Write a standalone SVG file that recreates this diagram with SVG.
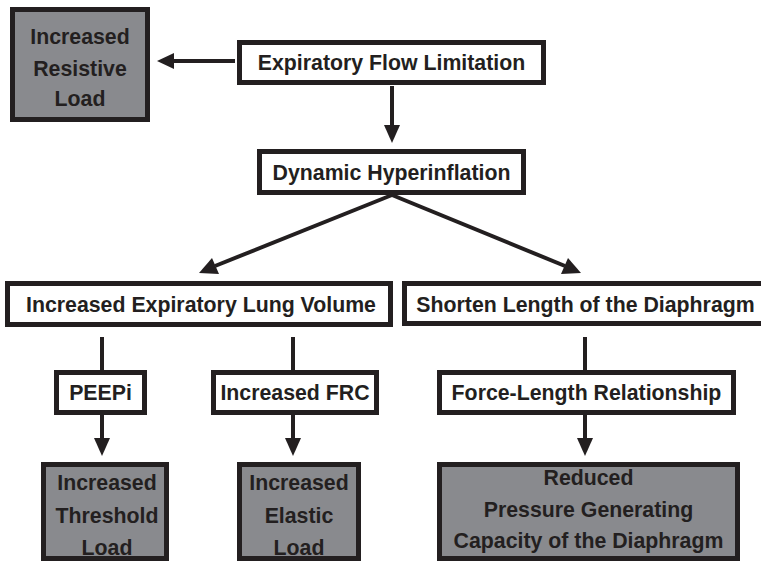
<svg xmlns="http://www.w3.org/2000/svg" width="761" height="561" viewBox="0 0 761 561">
  <style>
    .box { fill: #ffffff; stroke: #231f20; stroke-width: 5; }
    .load { fill: #898a8e; stroke: #231f20; stroke-width: 5; }
    .lbl { font-family: "Liberation Sans", Arial, sans-serif; font-weight: bold; font-size: 21.3px; fill: #231f20; text-anchor: middle; }
    .wire { stroke: #231f20; stroke-width: 4; fill: none; }
    .head { fill: #231f20; }
  </style>
  <rect width="761" height="561" fill="#ffffff"/>

  <!-- connectors -->
  <g id="connectors">
    <!-- flow limitation -> resistive load -->
    <line class="wire" x1="235" y1="61" x2="172" y2="61"/>
    <polygon class="head" points="157,61 174,53 174,69"/>
    <!-- flow limitation -> hyperinflation -->
    <line class="wire" x1="392" y1="86" x2="392" y2="127"/>
    <polygon class="head" points="392,143 384,125 400,125"/>
    <!-- hyperinflation -> two branches -->
    <line class="wire" x1="392" y1="195" x2="215" y2="266"/>
    <polygon class="head" points="199,273 212,258 219,274"/>
    <line class="wire" x1="392" y1="195" x2="565" y2="266"/>
    <polygon class="head" points="581,273 561,274 568,258"/>
    <!-- lung volume -> PEEPi / FRC -->
    <line class="wire" x1="102" y1="337" x2="102" y2="371"/>
    <line class="wire" x1="293" y1="337" x2="293" y2="371"/>
    <!-- diaphragm length -> force-length -->
    <line class="wire" x1="585" y1="337" x2="585" y2="371"/>
    <!-- down to loads -->
    <line class="wire" x1="102" y1="415" x2="102" y2="440"/>
    <polygon class="head" points="102,456 94,438 110,438"/>
    <line class="wire" x1="293" y1="415" x2="293" y2="440"/>
    <polygon class="head" points="293,456 285,438 301,438"/>
    <line class="wire" x1="585" y1="415" x2="585" y2="440"/>
    <polygon class="head" points="585,456 577,438 593,438"/>
  </g>

  <g id="resistive-load">
    <rect class="load" x="12.5" y="9.5" width="135" height="110"/>
    <text class="lbl" x="80" y="44">Increased</text>
    <text class="lbl" x="80" y="76">Resistive</text>
    <text class="lbl" x="80" y="106">Load</text>
  </g>

  <g id="flow-limitation">
    <rect class="box" x="239.5" y="42.5" width="304" height="40"/>
    <text class="lbl" x="391.5" y="70">Expiratory Flow Limitation</text>
  </g>

  <g id="hyperinflation">
    <rect class="box" x="259.5" y="151.5" width="264" height="41"/>
    <text class="lbl" x="391.5" y="180">Dynamic Hyperinflation</text>
  </g>

  <g id="lung-volume">
    <rect class="box" x="7.5" y="283.5" width="383" height="41"/>
    <text class="lbl" x="201" y="312">Increased Expiratory Lung Volume</text>
  </g>

  <g id="diaphragm-length">
    <rect class="box" x="404.5" y="283.5" width="370" height="40"/>
    <text class="lbl" x="585.5" y="312">Shorten Length of the Diaphragm</text>
  </g>

  <g id="peepi">
    <rect class="box" x="56.5" y="372.5" width="88" height="40"/>
    <text class="lbl" x="100.5" y="400">PEEPi</text>
  </g>

  <g id="frc">
    <rect class="box" x="213.5" y="372.5" width="163" height="40"/>
    <text class="lbl" x="295" y="400">Increased FRC</text>
  </g>

  <g id="force-length">
    <rect class="box" x="439.5" y="372.5" width="294" height="40"/>
    <text class="lbl" x="586.5" y="400">Force-Length Relationship</text>
  </g>

  <g id="threshold-load">
    <rect class="load" x="43.5" y="464.5" width="123" height="94"/>
    <text class="lbl" x="107" y="490">Increased</text>
    <text class="lbl" x="107" y="523">Threshold</text>
    <text class="lbl" x="107" y="555">Load</text>
  </g>

  <g id="elastic-load">
    <rect class="load" x="239.5" y="464.5" width="119" height="94"/>
    <text class="lbl" x="299" y="490">Increased</text>
    <text class="lbl" x="299" y="523">Elastic</text>
    <text class="lbl" x="299" y="555">Load</text>
  </g>

  <g id="pressure-capacity">
    <rect class="load" x="439.5" y="464.5" width="298" height="94"/>
    <text class="lbl" x="588.5" y="485">Reduced</text>
    <text class="lbl" x="588.5" y="517">Pressure Generating</text>
    <text class="lbl" x="588.5" y="548">Capacity of the Diaphragm</text>
  </g>
</svg>
